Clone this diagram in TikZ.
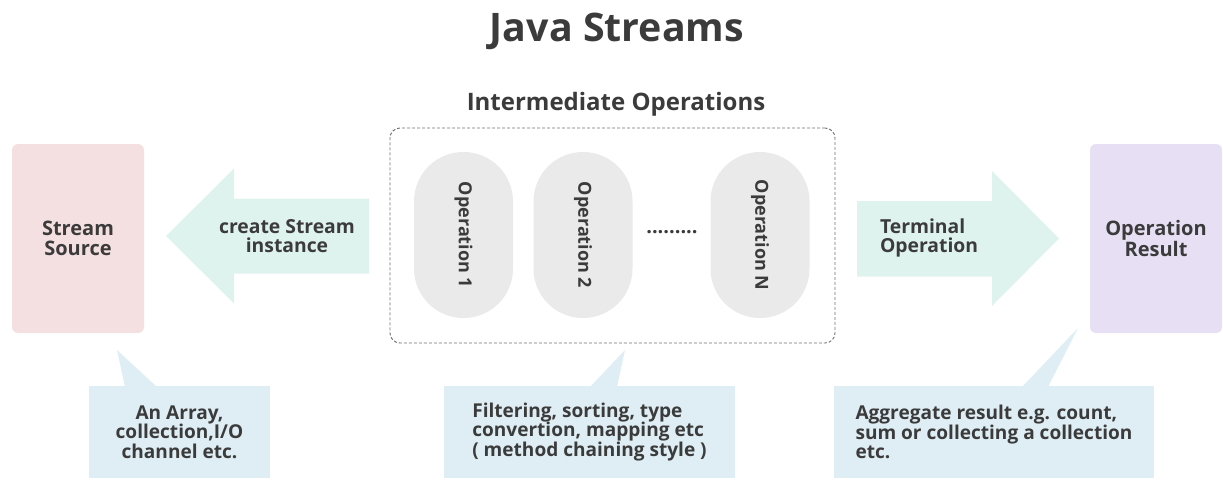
\documentclass[tikz,border=0pt]{standalone}
\usepackage{fontspec}
\setmainfont{Open Sans}
\usepackage{tikz}
\usetikzlibrary{calc}
\definecolor{jsgray}{HTML}{3B3B3B}
\definecolor{jspink}{HTML}{F5E0E1}
\definecolor{jslilac}{HTML}{E7DFF3}
\definecolor{jsmint}{HTML}{DFF3EE}
\definecolor{jsnote}{HTML}{DFEEF4}
\definecolor{jspill}{HTML}{EAEAEA}
\definecolor{jsdash}{HTML}{707070}

\begin{document}
\begin{tikzpicture}[
        x=0.75pt, y=-0.75pt,
        text=jsgray,
        every node/.style={align=center, inner sep=0pt, outer sep=0pt},
        % ===== Geometria: 1 unidad = 1 px de la imagen (1223 x 479) =====
        % ============= Estilos =============
        titletext/.style={font=\fontsize{29.5}{34}\selectfont\bfseries},
        grouptext/.style={font=\fontsize{18}{20}\selectfont\bfseries},
        endbox/.style={rectangle, rounded corners=4.5pt,
                       minimum width=99pt, minimum height=141.75pt,
                       font=\fontsize{15}{15.5}\selectfont\bfseries},
        opsbox/.style={rectangle, rounded corners=7.5pt, draw=jsdash,
                       dash pattern=on 2.25pt off 1.5pt, line width=0.7pt,
                       minimum width=333.75pt, minimum height=161.25pt},
        oppill/.style={rectangle, rounded corners=37pt, fill=jspill,
                       minimum width=124.5pt, minimum height=74.25pt,
                       rotate=-90, font=\fontsize{13.5}{13.5}\selectfont\bfseries},
        flowarrow/.style={fill=jsmint},
        arrowtext/.style={font=\fontsize{14.5}{14.5}\selectfont\bfseries},
        notebox/.style={rectangle, fill=jsnote, minimum height=69pt,
                        font=\fontsize{14.3}{14.6}\selectfont\bfseries}
    ]
        \useasboundingbox (0,0) rectangle (1223,479);

        % ===== Titulos =====
        \node[titletext] (title) at (617,31) {Java Streams};
        \node[grouptext] (grouplab) at (616,104) {Intermediate Operations};

        % ===== Fuente y resultado =====
        \node[endbox, fill=jspink] (src) at (78,238.5) {Stream\\Source};
        \node[endbox, fill=jslilac] (res) at (1156,238.5) {Operation\\Result};

        % ===== Operaciones intermedias =====
        \node[opsbox] (ops) at (612.5,235.5) {};
        \foreach \i/\xc/\lab in {%
            1/463.5/Operation 1,
            2/583/Operation 2,
            N/760/Operation N%
        }{
            \node[oppill] (op\i) at (\xc,235) {\lab};
        }
        \node[font=\fontsize{15}{15}\selectfont\bfseries] (gap) at (672,232) {.........};

        % ===== Flechas de bloque =====
        \fill[flowarrow, shift={(src.east)}]
            (22,-2.5) -- (90,-70) -- (90,-40) -- (225,-40)
            -- (225,35) -- (90,35) -- (90,65) -- cycle;
        \fill[flowarrow, shift={(res.west)}]
            (-31,0) -- (-98,67.5) -- (-98,38) -- (-233,38)
            -- (-233,-37.5) -- (-98,-37.5) -- (-98,-67.5) -- cycle;
        \node[arrowtext] (mklab) at (287,236) {create Stream\\instance};
        \node[arrowtext, anchor=west, align=left] (termlab) at (880,238)
            {Terminal\\Operation};

        % ===== Notas =====
        \node[notebox, minimum width=135.75pt] (srcnote) at (179.5,432)
            {An Array,\\collection,I/O\\channel etc.};
        \node[notebox, minimum width=218.25pt, align=left] (opsnote) at (589.5,432)
            {Filtering, sorting, type\\convertion, mapping etc\\( method chaining style )};
        \node[notebox, minimum width=240pt, align=left] (resnote) at (994,432)
            {Aggregate result e.g. count,\\sum or collecting a collection\\etc.};

        % ===== Picos de las notas =====
        \coordinate (srctip) at (117,350);
        \coordinate (opstip) at (625,350);
        \coordinate (restip) at (1078,328);
        \fill[jsnote] ($(srcnote.north)+(-54.5,1)$) -- (srctip)
            -- ($(srcnote.north)+(-22.5,1)$) -- cycle;
        \fill[jsnote] ($(opsnote.north)+(0.5,1)$) -- (opstip)
            -- ($(opsnote.north)+(27.5,1)$) -- cycle;
        \fill[jsnote] ($(resnote.north)+(28,1)$) -- (restip)
            -- ($(resnote.north)+(54,1)$) -- cycle;
    \end{tikzpicture}
\end{document}
